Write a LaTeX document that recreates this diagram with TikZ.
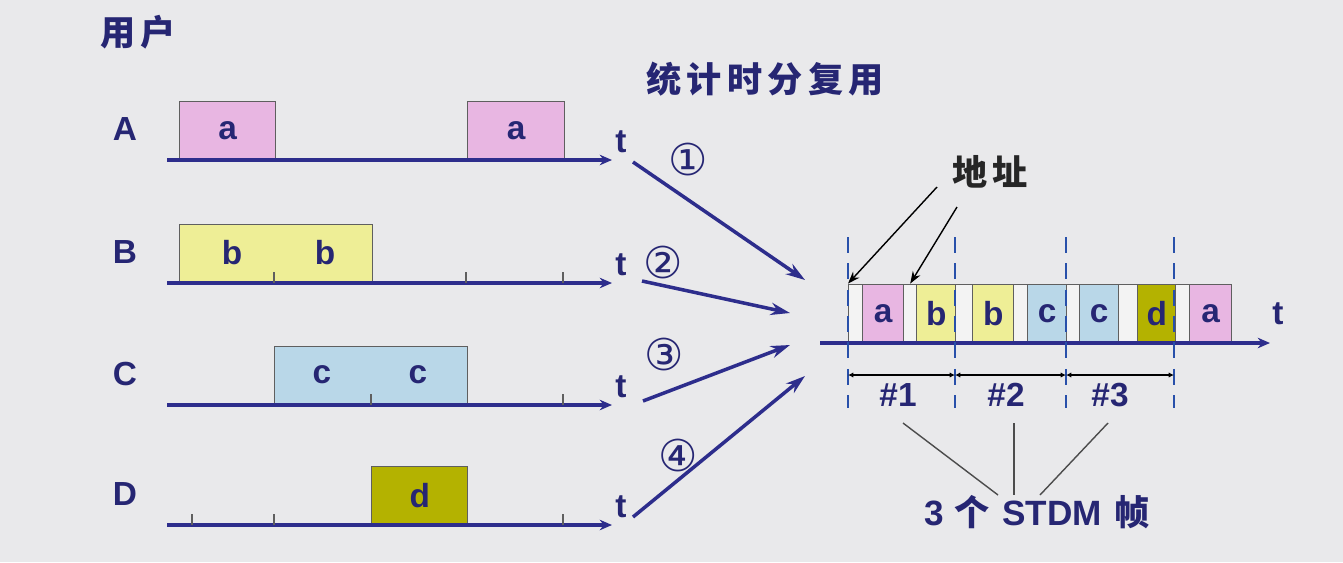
\documentclass[tikz,border=0pt]{standalone}
\usepackage{fontspec}
\setmainfont{Liberation Sans}
\newfontfamily\cjk{Noto Sans CJK SC}
\newfontfamily\cjkwide[LetterSpace=15]{Noto Sans CJK SC}
\newfontfamily\symfont{DejaVu Sans}
\usetikzlibrary{arrows.meta, positioning, calc}

\definecolor{bgGray}{RGB}{233,233,235}
\definecolor{navyText}{RGB}{38,38,115}
\definecolor{axisBlue}{RGB}{45,45,140}
\definecolor{dashBlue}{RGB}{40,80,170}
\definecolor{edgeGray}{RGB}{95,95,95}
\definecolor{addrFill}{RGB}{243,243,243}
\definecolor{slotA}{RGB}{232,182,226}
\definecolor{slotB}{RGB}{238,238,150}
\definecolor{slotC}{RGB}{185,215,232}
\definecolor{slotD}{RGB}{180,178,0}

\newcommand\labfont{\fontsize{19}{22}\selectfont\bfseries}

\begin{document}
\begin{tikzpicture}[x=0.02cm, y=-0.02cm,
  lbl/.style={font=\labfont, text=navyText, inner sep=0pt},
  cjklbl/.style={font=\cjkwide\fontsize{20}{23}\selectfont\bfseries, text=navyText, inner sep=0pt},
  circled/.style={font=\symfont\fontsize{25}{27}\selectfont, text=navyText, inner sep=0pt},
  slotbox/.style={rectangle, draw=edgeGray, line width=0.8pt, inner sep=0pt, anchor=south west,
    minimum height=1.16cm, font=\labfont, text=navyText},
  axis/.style={line width=2pt, draw=axisBlue, -{Stealth[length=7pt,width=6pt]}},
  feed/.style={line width=2pt, draw=axisBlue, -{Stealth[length=11pt,width=7pt]}},
  tick/.style={line width=0.8pt, draw=edgeGray},
  frameline/.style={line width=1.6pt, draw=dashBlue, dash pattern=on 9pt off 6pt},
  dim/.style={line width=0.7pt, {Latex[length=3pt,width=3pt]}-{Latex[length=3pt,width=3pt]}},
  pointer/.style={line width=0.8pt, -{Stealth[length=7pt,width=5pt]}},
  brace/.style={line width=0.8pt, draw=black!70}]

\fill[bgGray] (0,0) rectangle (1343,562);
\useasboundingbox (0,0) rectangle (1343,562);

% users and their time lines
\node[cjklbl] (users) at (138,32) {用户};
\foreach \r/\y in {A/160,B/283,C/405,D/525} {
  \node[lbl] (u\r) at (125,\y-31) {\r};
  \coordinate (\r0) at (167,\y);
  \coordinate (\r1) at (612,\y);
  \node[lbl] (t\r) at (621,\y-18) {t};
}

% data slots of each user
\node[slotbox, fill=slotA, minimum width=1.92cm] (a1) at (179,160) {a};
\node[slotbox, fill=slotA, minimum width=1.94cm] (a2) at (467,160) {a};
\node[slotbox, fill=slotB, minimum width=3.86cm] (bb) at (179,283) {};
\node[slotbox, fill=slotC, minimum width=3.86cm] (cc) at (274,405) {};
\node[slotbox, fill=slotD, minimum width=1.92cm] (d1) at (371,525) {d};
\node[lbl] (b1) at (232,253) {b};
\node[lbl] (b2) at (325,253) {b};
\node[lbl] (c1) at (322,375) {c};
\node[lbl] (c2) at (418,375) {c};

\foreach \r in {A,B,C,D}
  \draw[axis] (\r0) -- (\r1);
\foreach \x/\y in {274/283,466/283,563/283,371/405,563/405,192/525,274/525,563/525}
  \draw[tick] (\x,\y) -- ++(0,-11);

% into the multiplexer
\coordinate (oA) at (633,162);
\coordinate (oB) at (642,281);
\coordinate (oC) at (643,401);
\coordinate (oD) at (633,517);
\coordinate (iA) at (805,280);
\coordinate (iB) at (790,313);
\coordinate (iC) at (790,345);
\coordinate (iD) at (805,376);
\foreach \r in {A,B,C,D}
  \draw[feed] (o\r) -- (i\r);
\node[circled] (n1) at (688,159) {①};
\node[circled] (n2) at (663,262) {②};
\node[circled] (n3) at (664,354) {③};
\node[circled] (n4) at (678,455) {④};

\node[cjklbl] (title) at (765,79) {统计时分复用};

% STDM frames
\foreach \x/\w/\c/\t [count=\i] in {848/14/addrFill/, 862/41/slotA/a, 903/13/addrFill/, 916/39/slotB/b,
    955/17/addrFill/, 972/41/slotB/b, 1013/14/addrFill/, 1027/39/slotC/c,
    1066/13/addrFill/, 1079/39/slotC/c, 1118/19/addrFill/, 1137/38/slotD/d,
    1175/14/addrFill/, 1189/42/slotA/a}
  \node[slotbox, fill=\c, minimum width=\w*0.02cm] (s\i) at (\x,343) {\t};

\coordinate (m0) at (820,343);
\coordinate (m1) at (1270,343);
\draw[axis] (m0) -- (m1);
\node[lbl] (tM) at (1278,314) {t};

\foreach \x [count=\i from 0] in {848,955,1066,1174} {
  \draw[frameline] (\x,237) -- (\x,408);
  \coordinate (f\i) at (\x,375);
}
\draw[dim] (f0) -- (f1);
\draw[dim] (f1) -- (f2);
\draw[dim] (f2) -- (f3);
\node[lbl] (h1) at (898,395) {\#1};
\node[lbl] (h2) at (1006,395) {\#2};
\node[lbl] (h3) at (1110,395) {\#3};

% address fields
\node[cjklbl, text=black!85] (addr) at (990,172) {地址};
\coordinate (p1) at (937,187);
\coordinate (p2) at (957,207);
\draw[pointer] (p1) -- (s1.north west);
\draw[pointer] (p2) -- (s3.north);

% frame count
\node[lbl, font=\fontsize{20}{23}\selectfont\bfseries] (count) at (1037,512)
  {3\hspace{6pt}{\cjk 个}\hspace{7pt}STDM\hspace{7pt}{\cjk 帧}};
\coordinate (k1) at (903,423);
\coordinate (k2) at (1014,423);
\coordinate (k3) at (1108,423);
\draw[brace] (k1) -- (998,495);
\draw[brace] (k2) -- (1014,495);
\draw[brace] (k3) -- (1040,495);
\end{tikzpicture}
\end{document}
